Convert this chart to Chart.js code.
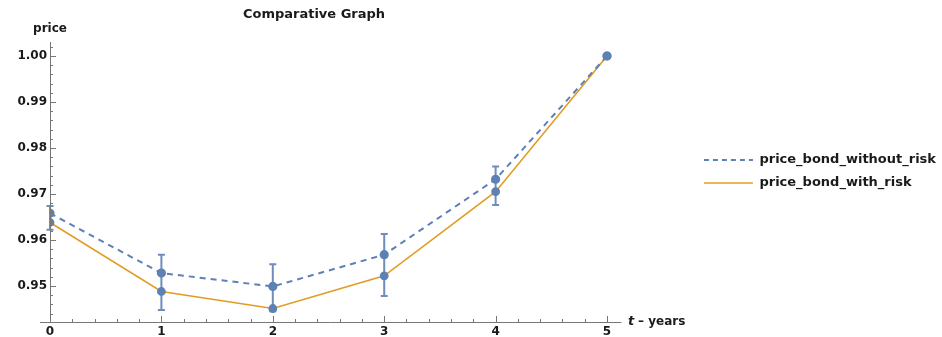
<!DOCTYPE html>
<html>
<head>
<meta charset="utf-8">
<script src="https://cdn.jsdelivr.net/npm/chart.js@4"></script>
<style>
  html, body { margin: 0; padding: 0; background: #fff; }
  #wrap { width: 942px; height: 337px; }
</style>
</head>
<body>
<div id="wrap"><canvas id="bondChart" width="942" height="337"></canvas></div>
<script>
const years = [0, 1, 2, 3, 4, 5];
const priceWithoutRisk = [0.9658, 0.9528, 0.9499, 0.9568, 0.9732, 1.000];
const priceWithRisk = [0.9638, 0.9488, 0.9451, 0.9522, 0.9705, 1.000];
const errLow = [0.9622, 0.9448, 0.9445, 0.9478, 0.9676, null];
const errHigh = [0.9674, 0.9568, 0.9547, 0.9613, 0.9760, null];
const xTicks = [0, 1, 2, 3, 4, 5];
const yTicks = [0.95, 0.96, 0.97, 0.98, 0.99, 1.00];

const BLUE = '#5E81B5';
const ORANGE = '#E19C24';
const FONT = '"DejaVu Sans", Arial, sans-serif';
const TEXT = '#1a1a1a';

// error bars drawn under the markers
const errorBars = {
    id: 'errorBars',
    beforeDatasetsDraw(chart) {
        const { ctx, scales: { x, y } } = chart;
        ctx.save();
        ctx.strokeStyle = 'rgba(94,129,181,0.9)';
        ctx.lineWidth = 2;
        years.forEach((yr, i) => {
            if (errLow[i] == null) return;
            const px = x.getPixelForValue(yr);
            const top = y.getPixelForValue(errHigh[i]);
            const bot = y.getPixelForValue(errLow[i]);
            ctx.beginPath();
            ctx.moveTo(px, top); ctx.lineTo(px, bot);
            ctx.moveTo(px - 3.5, top); ctx.lineTo(px + 3.5, top);
            ctx.moveTo(px - 3.5, bot); ctx.lineTo(px + 3.5, bot);
            ctx.stroke();
        });
        ctx.restore();
    }
};

// let the legend be wider than the default half-width limit, and nudge it up
const legendTweak = {
    id: 'legendTweak',
    beforeLayout(chart) {
        const lg = chart.legend;
        if (lg && !lg._patched) {
            const orig = lg.update.bind(lg);
            lg.update = (w, h, m) => orig(Math.max(w, 300), h, m);
            lg._patched = true;
        }
    },
    afterLayout(chart) {
        chart.legend.top -= 18;
        chart.legend.bottom -= 18;
    }
};

// Mathematica style axes with inward ticks, plus title and axis labels
const axesAndLabels = {
    id: 'axesAndLabels',
    afterDraw(chart) {
        const { ctx, chartArea, scales: { x, y } } = chart;
        const x0 = x.getPixelForValue(0);
        const yb = chartArea.bottom;
        const xEnd = x.getPixelForValue(5.13);
        ctx.save();
        ctx.strokeStyle = '#777';
        ctx.lineWidth = 1;
        ctx.beginPath();
        ctx.moveTo(x0 - 10, yb + 0.5); ctx.lineTo(xEnd, yb + 0.5);
        ctx.moveTo(x0 + 0.5, yb); ctx.lineTo(x0 + 0.5, chartArea.top);
        for (let v = 0.944; v < 1.003; v += 0.002) {
            const py = Math.round(y.getPixelForValue(v)) + 0.5;
            const major = yTicks.some(t => Math.abs(t - v) < 1e-6);
            ctx.moveTo(x0, py); ctx.lineTo(x0 + (major ? 6 : 3), py);
        }
        for (let v = 0.2; v < 5.1; v += 0.2) {
            const px = Math.round(x.getPixelForValue(v)) + 0.5;
            const major = xTicks.some(t => Math.abs(t - v) < 1e-6);
            ctx.moveTo(px, yb); ctx.lineTo(px, yb - (major ? 6 : 3));
        }
        ctx.stroke();

        ctx.fillStyle = TEXT;
        ctx.font = 'bold 13px ' + FONT;
        ctx.textAlign = 'center';
        ctx.textBaseline = 'middle';
        ctx.fillText('Comparative Graph', 314, 15);
        ctx.font = 'bold 12px ' + FONT;
        ctx.fillText('price', 50, 29);
        ctx.textAlign = 'left';
        ctx.font = 'italic bold 13px ' + FONT;
        ctx.fillText('t', 628, yb);
        ctx.font = 'bold 12px ' + FONT;
        ctx.fillText('\u2013 years', 638, yb);
        ctx.restore();
    }
};

const ctx = document.getElementById('bondChart').getContext('2d');
new Chart(ctx, {
    type: 'line',
    data: {
        datasets: [{
            label: 'price_bond_without_risk',
            data: years.map((t, i) => ({ x: t, y: priceWithoutRisk[i] })),
            borderColor: BLUE,
            backgroundColor: BLUE,
            borderWidth: 2,
            borderDash: [6, 5],
            pointRadius: 3.6,
            pointBackgroundColor: BLUE,
            pointBorderColor: BLUE,
            tension: 0
        }, {
            label: 'price_bond_with_risk',
            data: years.map((t, i) => ({ x: t, y: priceWithRisk[i] })),
            borderColor: ORANGE,
            backgroundColor: ORANGE,
            borderWidth: 1.6,
            pointRadius: 3.6,
            pointBackgroundColor: BLUE,
            pointBorderColor: BLUE,
            tension: 0
        }]
    },
    options: {
        responsive: false,
        animation: false,
        layout: { padding: { top: 42, left: 0, right: -4, bottom: 0 } },
        plugins: {
            title: { display: false },
            tooltip: { enabled: false },
            legend: {
                position: 'right',
                align: 'center',
                labels: {
                    usePointStyle: true,
                    pointStyle: 'line',
                    pointStyleWidth: 49,
                    color: TEXT,
                    padding: 10,
                    font: { family: FONT, size: 13, weight: 'bold' },
                    generateLabels(chart) {
                        return chart.data.datasets.map((ds, i) => ({
                            text: ds.label,
                            datasetIndex: i,
                            pointStyle: 'line',
                            strokeStyle: ds.borderColor,
                            fillStyle: ds.borderColor,
                            lineWidth: ds.borderWidth,
                            lineDash: ds.borderDash ? [5, 4] : [],
                            fontColor: TEXT
                        }));
                    }
                }
            }
        },
        scales: {
            x: {
                type: 'linear',
                min: 0,
                max: 5.78,
                grid: { display: false, drawTicks: false },
                border: { display: false },
                afterBuildTicks: s => { s.ticks = xTicks.map(v => ({ value: v })); },
                afterFit: s => { s.height = 15; },
                ticks: {
                    padding: 3,
                    color: TEXT,
                    font: { family: FONT, size: 12, weight: 'bold' },
                    callback: v => String(v)
                }
            },
            y: {
                min: 0.94217,
                max: 1.00304,
                grid: { display: false, drawTicks: false },
                border: { display: false },
                afterBuildTicks: s => { s.ticks = yTicks.map(v => ({ value: v })); },
                afterFit: s => { s.width = 50; },
                ticks: {
                    padding: 3,
                    color: TEXT,
                    font: { family: FONT, size: 12, weight: 'bold' },
                    callback: v => Number(v).toFixed(2)
                }
            }
        }
    },
    plugins: [errorBars, legendTweak, axesAndLabels]
});
</script>
</body>
</html>
